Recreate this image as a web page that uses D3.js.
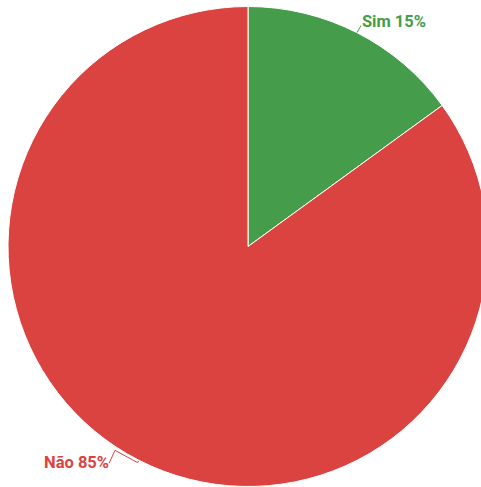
<!DOCTYPE html>
<html>
<head>
<meta charset="utf-8">
<script src="https://cdn.jsdelivr.net/npm/d3@7"></script>
<style>
  html, body { margin: 0; padding: 0; background: #fff; }
  svg { display: block; }
</style>
</head>
<body>
<svg id="chart" width="481" height="487"></svg>
<script>
const categories = ["Sim", "Não"];
const values = [15, 85];
const colors = ["#459C4B", "#DB4341"];

const width = 481, height = 487;
const cx = 248, cy = 246.5, radius = 240;

const svg = d3.select("#chart");
const g = svg.append("g").attr("transform", `translate(${cx},${cy})`);

const pie = d3.pie().sort(null).value(d => d.value);
const arcs = pie(categories.map((c, i) => ({ name: c, value: values[i], color: colors[i] })));
const arc = d3.arc().innerRadius(0).outerRadius(radius);
const rimArc = d3.arc().innerRadius(radius).outerRadius(radius);

g.selectAll("path.slice")
  .data(arcs)
  .join("path")
  .attr("class", "slice")
  .attr("d", arc)
  .attr("fill", d => d.data.color)
  .attr("stroke", "#fff")
  .attr("stroke-width", 1);

const total = d3.sum(values);
const pct = v => Math.round(v / total * 100) + "%";

// connector and label for each slice
arcs.forEach(d => {
  const [rx, ry] = rimArc.centroid(d);
  const right = rx >= 0;
  let pts, tx, ty, anchor;
  if (right) {
    pts = [[rx, ry], [rx + 4, ry - 7]];
    tx = rx + 5; ty = ry - 6; anchor = "start";
  } else {
    pts = [[rx, ry + 1], [rx - 2, ry + 2], [rx - 24, ry - 10], [rx - 30, ry + 3]];
    tx = rx - 30; ty = ry + 8; anchor = "end";
  }
  g.append("path")
    .attr("d", d3.line()(pts))
    .attr("fill", "none")
    .attr("stroke", d.data.color)
    .attr("stroke-width", 1);
  g.append("text")
    .attr("x", tx)
    .attr("y", ty)
    .attr("text-anchor", anchor)
    .attr("font-family", "Roboto, sans-serif")
    .attr("font-weight", "bold")
    .attr("font-size", 16.5)
    .attr("fill", d.data.color)
    .text(`${d.data.name} ${pct(d.data.value)}`);
});
</script>
</body>
</html>
